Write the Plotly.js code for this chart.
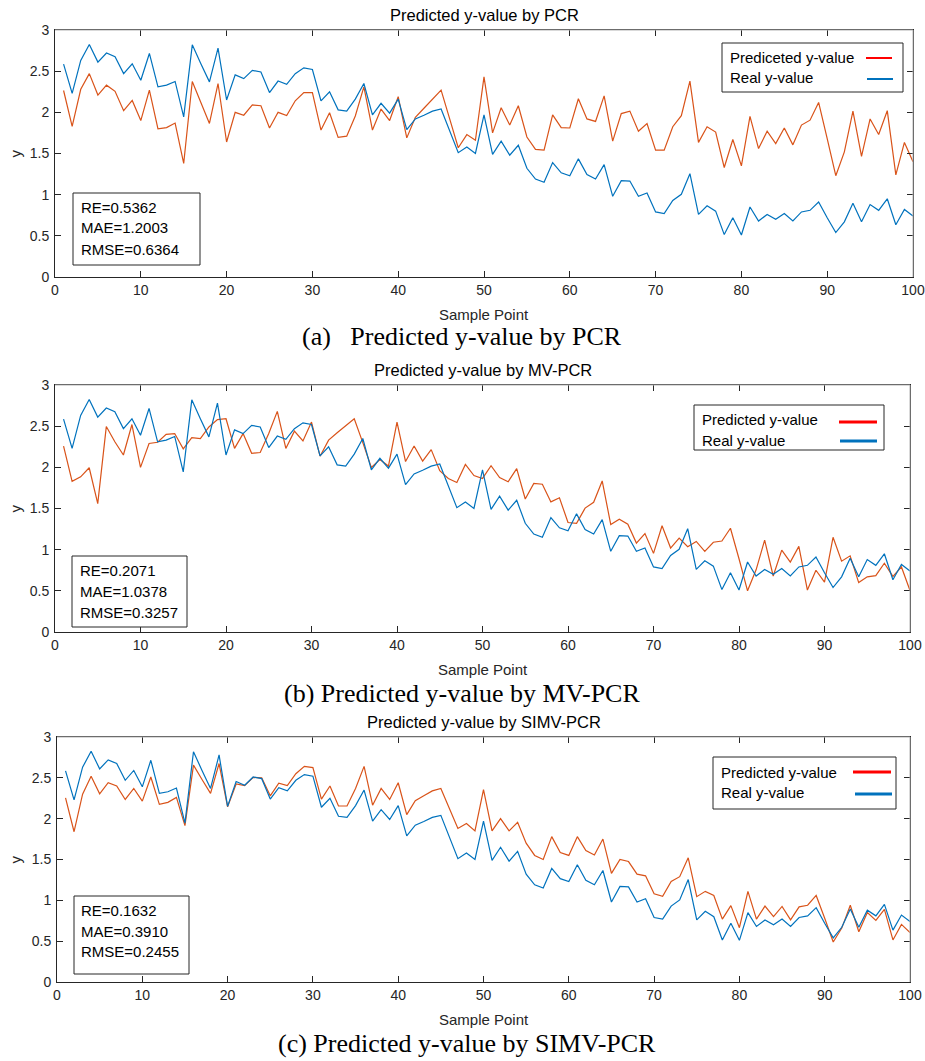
<!DOCTYPE html>
<html>
<head>
<meta charset="utf-8">
<script src="https://cdn.plot.ly/plotly-3.0.1.min.js"></script>
<style>html,body{margin:0;padding:0;background:#fff;}#chart{width:925px;height:1061px;}</style>
</head>
<body>
<div id="chart"></div>
<script>
// ---------------- DATA ----------------
const samplePoints = [1,2,3,4,5,6,7,8,9,10,11,12,13,14,15,16,17,18,19,20,21,22,23,24,25,26,27,28,29,30,31,32,33,34,35,36,37,38,39,40,41,42,43,44,45,46,47,48,49,50,51,52,53,54,55,56,57,58,59,60,61,62,63,64,65,66,67,68,69,70,71,72,73,74,75,76,77,78,79,80,81,82,83,84,85,86,87,88,89,90,91,92,93,94,95,96,97,98,99,100];

const realY = [2.586,2.23,2.63,2.825,2.61,2.72,2.675,2.47,2.59,2.39,
2.715,2.31,2.33,2.375,1.945,2.82,2.59,2.37,2.78,2.15,
2.455,2.41,2.51,2.49,2.24,2.38,2.34,2.47,2.54,2.52,
2.14,2.25,2.03,2.015,2.16,2.35,1.97,2.11,1.99,2.16,
1.79,1.92,1.965,2.015,2.04,1.78,1.51,1.58,1.50,1.97,
1.49,1.65,1.48,1.60,1.32,1.19,1.15,1.39,1.265,1.23,
1.435,1.245,1.19,1.365,0.98,1.17,1.165,0.98,1.02,0.79,
0.77,0.93,1.005,1.255,0.76,0.865,0.80,0.515,0.72,0.51,
0.85,0.68,0.76,0.70,0.77,0.68,0.79,0.81,0.91,0.72,
0.54,0.67,0.895,0.67,0.88,0.81,0.95,0.635,0.82,0.74];

const pcrPred = [2.265,1.83,2.28,2.47,2.21,2.33,2.255,2.02,2.145,1.90,
2.27,1.80,1.815,1.87,1.38,2.375,2.12,1.865,2.35,1.64,
2.00,1.965,2.09,2.08,1.81,2.00,1.96,2.14,2.24,2.24,
1.785,1.995,1.695,1.71,1.955,2.31,1.785,2.04,1.90,2.19,
1.69,1.94,2.05,2.16,2.27,1.92,1.57,1.73,1.66,2.43,
1.75,2.055,1.845,2.08,1.70,1.55,1.54,1.97,1.815,1.81,
2.165,1.92,1.89,2.20,1.65,1.985,2.015,1.77,1.865,1.54,
1.54,1.825,1.96,2.38,1.635,1.825,1.76,1.33,1.67,1.35,
1.95,1.56,1.77,1.62,1.81,1.605,1.845,1.905,2.12,1.68,
1.23,1.52,2.015,1.465,1.92,1.73,2.02,1.24,1.635,1.40];

const mvpcrPred = [2.257,1.83,1.885,1.995,1.56,2.495,2.31,2.15,2.52,2.00,
2.29,2.305,2.40,2.41,2.225,2.36,2.35,2.49,2.58,2.59,
2.23,2.41,2.17,2.18,2.41,2.68,2.23,2.44,2.32,2.55,
2.135,2.33,2.42,2.50,2.59,2.30,2.00,2.095,2.015,2.55,
2.07,2.26,2.075,2.215,1.96,1.865,1.815,2.035,1.90,1.865,
2.02,1.875,1.825,1.985,1.615,1.805,1.795,1.58,1.63,1.33,
1.32,1.505,1.575,1.835,1.305,1.37,1.31,1.08,1.195,0.955,
1.29,1.02,1.14,1.035,1.10,0.98,1.09,1.105,1.26,0.89,
0.50,0.755,1.115,0.68,0.995,0.85,1.04,0.51,0.75,0.605,
1.15,0.86,0.925,0.60,0.67,0.685,0.835,0.675,0.79,0.505];

const simvpcrPred = [2.255,1.84,2.30,2.52,2.305,2.44,2.40,2.235,2.37,2.215,
2.51,2.175,2.20,2.26,1.915,2.655,2.48,2.31,2.675,2.145,
2.425,2.405,2.505,2.50,2.28,2.435,2.405,2.55,2.64,2.625,
2.24,2.40,2.155,2.155,2.37,2.64,2.165,2.37,2.235,2.44,
2.05,2.22,2.28,2.34,2.37,2.13,1.88,1.94,1.85,2.355,
1.85,2.00,1.85,1.955,1.70,1.55,1.50,1.78,1.585,1.55,
1.78,1.61,1.555,1.75,1.33,1.50,1.475,1.32,1.30,1.08,
1.05,1.23,1.29,1.52,1.045,1.11,1.06,0.77,0.935,0.665,
1.11,0.77,0.93,0.80,0.925,0.76,0.92,0.94,1.06,0.78,
0.49,0.66,0.94,0.615,0.85,0.755,0.89,0.515,0.705,0.605];

const panelTitles = ['Predicted y-value by PCR','Predicted y-value by MV-PCR','Predicted y-value by SIMV-PCR'];
const captions = ['(a)\u00a0\u00a0 Predicted y-value by PCR','(b) Predicted y-value by MV-PCR','(c) Predicted y-value by SIMV-PCR'];
const predLegendNames = ['Prediceted y-value','Predicted y-value','Predicted y-value'];
const realLegendName = 'Real y-value';
const statsText = [
  ['RE=0.5362','MAE=1.2003','RMSE=0.6364'],
  ['RE=0.2071','MAE=1.0378','RMSE=0.3257'],
  ['RE=0.1632','MAE=0.3910','RMSE=0.2455']
];
const xAxisTitle = 'Sample Point';
const yAxisTitle = 'y';
const predictions = [pcrPred, mvpcrPred, simvpcrPred];

// ---------------- LAYOUT GEOMETRY (pixels) ----------------
const W = 925, H = 1061;
const px = v => v / W;
const py = v => 1 - v / H;
const panels = [
  {l:55, r:913, t:30,  b:277, legend:{l:722,r:903,t:43,b:92, t1:57,t2:78, txl:728, ln1:[866,892,58], ln2:[867,893,79]}, stats:{l:73,r:200,t:193,b:265,tx:79,ys:[207,228,249]}, capX:462, capY:337},
  {l:55, r:910, t:385, b:632, legend:{l:694,r:884,t:405,b:450, t1:419,t2:440, txl:700, ln1:[839,877,422], ln2:[840,877,441]}, stats:{l:72,r:187,t:556,b:627,tx:78,ys:[570,591,612]}, capX:462, capY:693},
  {l:57, r:910, t:737, b:982, legend:{l:713,r:896,t:757,b:809, t1:772,t2:792, txl:719, ln1:[853,891,772], ln2:[855,892,794]}, stats:{l:74,r:189,t:896,b:974,tx:79,ys:[910,931,951]}, capX:467, capY:1043}
];

const predColor = '#D95319';
const realColor = '#0072BD';
const axisFont = {family:'"Liberation Sans", Arial, Helvetica, sans-serif', size:15, color:'#262626'};
const tickFont = {family:'"Liberation Sans", Arial, Helvetica, sans-serif', size:14, color:'#262626'};
const capFont = {family:'"Liberation Serif", "Times New Roman", serif', size:26, color:'#000'};

const data = [];
const layout = {
  width: W, height: H, autosize:false,
  margin:{l:0,r:0,t:0,b:0,pad:0},
  paper_bgcolor:'#fff', plot_bgcolor:'#fff',
  showlegend:false,
  annotations:[], shapes:[]
};

panels.forEach((p, i) => {
  const sfx = i === 0 ? '' : String(i+1);
  const xa = 'x'+sfx, ya = 'y'+sfx;
  data.push({x: samplePoints, y: predictions[i], type:'scatter', mode:'lines', line:{color:predColor, width:1.2}, xaxis:xa, yaxis:ya, name:predLegendNames[i]});
  data.push({x: samplePoints, y: realY, type:'scatter', mode:'lines', line:{color:realColor, width:1.2}, xaxis:xa, yaxis:ya, name:realLegendName});

  const axCommon = {showgrid:false, zeroline:false, showline:true, linecolor:'#262626', linewidth:1,
    ticks:'inside', ticklen:6, tickcolor:'#262626', tickwidth:1, mirror:'ticks', tickfont:tickFont, fixedrange:true,
    ticklabeloverflow:'allow'};
  layout['xaxis'+sfx] = Object.assign({}, axCommon, {domain:[px(p.l), px(p.r)], range:[0,100], dtick:10, tick0:0, anchor:ya});
  layout['yaxis'+sfx] = Object.assign({}, axCommon, {domain:[py(p.b), py(p.t)], range:[0,3], dtick:0.5, tick0:0, anchor:xa, ticklabelstandoff:2});

  // light box top/right edges (MATLAB style)
  layout.shapes.push({type:'line', xref:xa+' domain', yref:ya+' domain', x0:0, x1:1, y0:1, y1:1, line:{color:'#b3b3b3', width:1}, layer:'above'});
  layout.shapes.push({type:'line', xref:xa+' domain', yref:ya+' domain', x0:1, x1:1, y0:0, y1:1, line:{color:'#b3b3b3', width:1}, layer:'above'});

  // panel title
  layout.annotations.push({text:panelTitles[i], xref:'paper', yref:'paper', x:px((p.l+p.r)/2), y:py(p.t-15), xanchor:'center', yanchor:'middle', showarrow:false, font:Object.assign({}, axisFont, {size:16.5, color:'#000'})});
  // axis titles
  layout.annotations.push({text:xAxisTitle, xref:'paper', yref:'paper', x:px((p.l+p.r)/2), y:py(p.b+37), xanchor:'center', yanchor:'middle', showarrow:false, font:axisFont});
  layout.annotations.push({text:yAxisTitle, xref:'paper', yref:'paper', x:px(15), y:py((p.t+p.b)/2), xanchor:'center', yanchor:'middle', showarrow:false, textangle:-90, font:axisFont});
  // caption
  layout.annotations.push({text:captions[i], xref:'paper', yref:'paper', x:px(p.capX), y:py(p.capY), xanchor:'center', yanchor:'middle', showarrow:false, font:capFont});

  // legend box
  const L = p.legend;
  layout.shapes.push({type:'rect', xref:'paper', yref:'paper', x0:px(L.l), x1:px(L.r), y0:py(L.b), y1:py(L.t), line:{color:'#262626', width:1}, fillcolor:'#fff', layer:'above'});
  layout.annotations.push({text:predLegendNames[i], xref:'paper', yref:'paper', x:px(L.txl), y:py(L.t1), xanchor:'left', yanchor:'middle', showarrow:false, font:Object.assign({}, axisFont, {color:'#000'})});
  layout.annotations.push({text:realLegendName, xref:'paper', yref:'paper', x:px(L.txl), y:py(L.t2), xanchor:'left', yanchor:'middle', showarrow:false, font:Object.assign({}, axisFont, {color:'#000'})});
  const lw = i === 0 ? 2 : 3;
  layout.shapes.push({type:'line', xref:'paper', yref:'paper', x0:px(L.ln1[0]), x1:px(L.ln1[1]), y0:py(L.ln1[2]), y1:py(L.ln1[2]), line:{color:'#ff0000', width:lw}, layer:'above'});
  layout.shapes.push({type:'line', xref:'paper', yref:'paper', x0:px(L.ln2[0]), x1:px(L.ln2[1]), y0:py(L.ln2[2]), y1:py(L.ln2[2]), line:{color:realColor, width:lw}, layer:'above'});

  // stats box
  const S = p.stats;
  layout.shapes.push({type:'rect', xref:'paper', yref:'paper', x0:px(S.l), x1:px(S.r), y0:py(S.b), y1:py(S.t), line:{color:'#262626', width:1}, fillcolor:'#fff', layer:'above'});
  statsText[i].forEach((t, k) => {
    layout.annotations.push({text:t, xref:'paper', yref:'paper', x:px(S.tx), y:py(S.ys[k]), xanchor:'left', yanchor:'middle', showarrow:false, font:Object.assign({}, axisFont, {color:'#000'})});
  });
});

Plotly.newPlot('chart', data, layout, {displayModeBar:false, staticPlot:true});
</script>
</body>
</html>
